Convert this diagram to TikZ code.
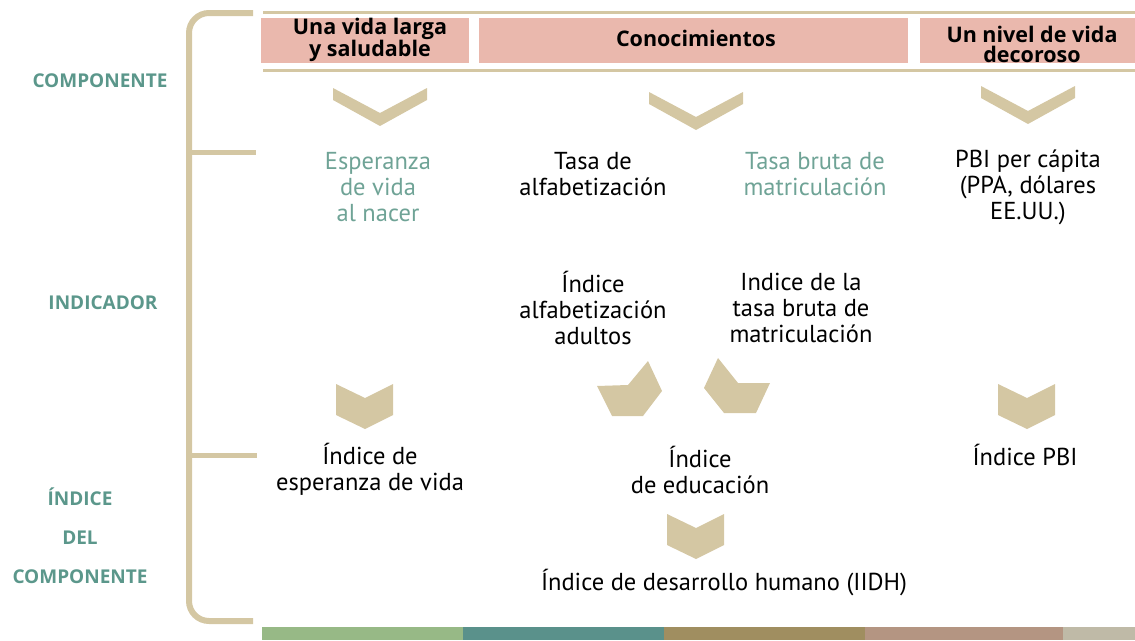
\documentclass[tikz,border=0pt]{standalone}
\usepackage{fontspec}
\setmainfont{PT Sans}
\newfontfamily\headfont{Open Sans}
\usetikzlibrary{positioning}
\definecolor{sand}{HTML}{D4C7A3}
\definecolor{rosebox}{HTML}{EAB8AD}
\definecolor{tealtext}{HTML}{5B978B}
\definecolor{teallight}{HTML}{6FA396}
\definecolor{bargreen}{HTML}{97B986}
\definecolor{barteal}{HTML}{5A918B}
\definecolor{barolive}{HTML}{A08E60}
\definecolor{barbrown}{HTML}{B49582}
\definecolor{bargrey}{HTML}{BFBAA7}
\tikzset{
  headbox/.style={
    fill=rosebox,
    minimum height=45pt,
    inner sep=0pt,
  },
  headtext/.style={
    font=\headfont\fontsize{21.5}{20}\selectfont\bfseries,
    align=center,
    inner sep=0pt,
  },
  bodytext/.style={
    font=\fontsize{24.5}{26}\selectfont,
    align=center,
    inner sep=0pt,
  },
  sidelabel/.style={
    font=\headfont\fontsize{19}{39}\selectfont\bfseries,
    text=tealtext,
    align=center,
    inner sep=0pt,
  },
  bracket/.style={
    draw=sand,
    line width=6pt,
  },
  rule/.style={
    draw=sand,
    line width=3pt,
  },
  chev/.style={
    fill=sand,
  },
}

\begin{document}
\begin{tikzpicture}[x=1pt, y=-1pt]
  \useasboundingbox (0,0) rectangle (1135,640);

  % Left bracket and side labels
  \draw[bracket, rounded corners=20pt] (253,13) -| (189,621) -- (253,621);
  \draw[bracket, line width=5pt] (189,152) -- (256,152);
  \draw[bracket, line width=5pt] (189,455) -- (257,455);

  \node[sidelabel] (lblcomp) at (100,81) {COMPONENTE};
  \node[sidelabel] (lblind)  at (103,303) {INDICADOR};
  \node[sidelabel] (lblidx)  at (80,536) {ÍNDICE\\DEL\\COMPONENTE};

  % Row 1 — components
  \draw[rule] (263,12) -- (1135,12);
  \draw[rule] (263,70) -- (1135,70);

  \node[headbox, minimum width=208pt] (boxvida)  at (365,40.5) {};
  \node[headbox, minimum width=429pt] (boxconoc) at (693.5,40.5) {};
  \node[headbox, minimum width=215pt] (boxnivel) at (1027.5,40.5) {};

  \node[headtext] (vida)  at (370,40) {Una vida larga\\y saludable};
  \node[headtext] (conoc) at (696,38) {Conocimientos};
  \node[headtext] (nivel) at (1032,44) {Un nivel de vida\\decoroso};

  \foreach \cx/\cy in {380/88, 696/92, 1028/86}
    \fill[chev] ({\cx-47},\cy) -- (\cx,{\cy+25}) -- ({\cx+47},\cy)
      -- ({\cx+47},{\cy+12}) -- (\cx,{\cy+38}) -- ({\cx-47},{\cy+12}) -- cycle;

  % Row 2 — indicators
  \node[bodytext, text=teallight] (esperanza) at (378,187) {Esperanza\\de vida\\al nacer};
  \node[bodytext] (alfab)  at (593,174) {Tasa de\\alfabetización};
  \node[bodytext, text=teallight] (matric) at (815,174) {Tasa bruta de\\matriculación};
  \node[bodytext] (pbi)    at (1028,187) {PBI per cápita\\(PPA, dólares\\EE.UU.)};

  \node[bodytext] (indalfab)  at (593,308) {Índice\\alfabetización\\adultos};
  \node[bodytext] (indmatric) at (801,308) {Indice de la\\tasa bruta de\\matriculación};

  % Row 3 — component indices
  \foreach \cx/\cy in {365/384, 1027/384, 696/514}
    \fill[chev] ({\cx-29},\cy) -- (\cx,{\cy+14}) -- ({\cx+28},\cy)
      -- ({\cx+28},{\cy+31}) -- (\cx,{\cy+45}) -- ({\cx-29},{\cy+31}) -- cycle;
  \fill[chev] (597,386) -- (628,385) -- (648,361) -- (662,391)
    -- (643,416) -- (612,416) -- cycle;
  \fill[chev] (718,358) -- (738,383) -- (770,383) -- (756,413)
    -- (724,413) -- (704,388) -- cycle;

  \node[bodytext] (indvida) at (370,469) {Índice de\\esperanza de vida};
  \node[bodytext] (indeduc) at (700,470) {Índice\\de educación};
  \node[bodytext] (indpbi)  at (1025,455) {Índice PBI};

  \node[bodytext] (iidh) at (724,583) {Índice de desarrollo humano (IIDH)};

  % Bottom colour bar
  \foreach \xa/\xb/\c in {262/463/bargreen, 463/664/barteal, 664/865/barolive,
      865/1063/barbrown, 1063/1135/bargrey}
    \fill[\c] (\xa,627) rectangle (\xb,640);
\end{tikzpicture}
\end{document}
